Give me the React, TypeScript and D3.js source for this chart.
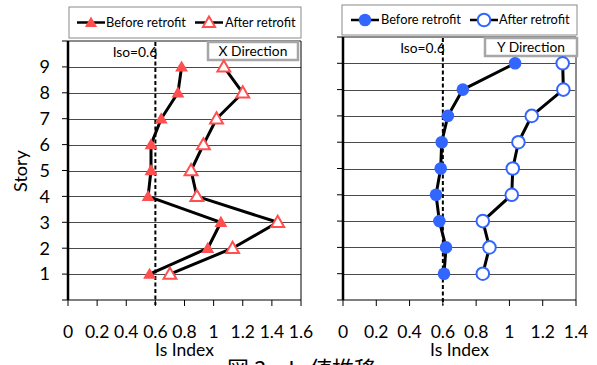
import React from "react";
import * as d3 from "d3";

const stories = [1, 2, 3, 4, 5, 6, 7, 8, 9];
const xBefore = [0.56, 0.96, 1.05, 0.55, 0.57, 0.57, 0.64, 0.755, 0.78];
const xAfter = [0.70, 1.13, 1.44, 0.885, 0.845, 0.93, 1.02, 1.2, 1.07];
const yBefore = [0.607, 0.619, 0.579, 0.559, 0.587, 0.593, 0.63, 0.72, 1.034];
const yAfter = [0.84, 0.88, 0.84, 1.014, 1.02, 1.054, 1.134, 1.324, 1.32];
const xTicksL = [0, 0.2, 0.4, 0.6, 0.8, 1, 1.2, 1.4, 1.6];
const xTicksR = [0, 0.2, 0.4, 0.6, 0.8, 1, 1.2, 1.4];
const storyTicks = [0, 1, 2, 3, 4, 5, 6, 7, 8, 9, 10];
const iso = 0.6;
const legendLabels = ["Before retrofit", "After retrofit"];

const RED = "#FF4F4F";
const BLUE = "#3366FF";
const FONT = "Lato, 'Open Sans', sans-serif";

const tri = d3.symbol(d3.symbolTriangle).size(72)() as string;
const triLeg = d3.symbol(d3.symbolTriangle).size(64)() as string;

type PanelProps = {
  x: d3.ScaleLinear<number, number>;
  y: d3.ScaleLinear<number, number>;
  ticks: number[];
  before: number[];
  after: number[];
  kind: "tri" | "circ";
  showYLabels: boolean;
  rightColor: string;
  dir: string;
  legend: { x0: number; y0: number; x1: number; y1: number; items: number[]; texts: number[] };
  dirBox: { x0: number; y0: number; x1: number; y1: number };
  isoLabelY: number;
};

function Marker({ kind, filled, cx, cy, legend }: { kind: string; filled: boolean; cx: number; cy: number; legend?: boolean }) {
  if (kind === "tri") {
    return (
      <path
        d={legend ? triLeg : tri}
        transform={`translate(${cx},${cy + 1})`}
        fill={filled ? RED : "#fff"}
        stroke={RED}
        strokeWidth={filled ? 0 : 2}
      />
    );
  }
  return <circle cx={cx} cy={cy} r={6.3} fill={filled ? BLUE : "#fff"} stroke={BLUE} strokeWidth={filled ? 0 : 2} />;
}

function Panel(p: PanelProps) {
  const { x, y } = p;
  const [xl, xr] = x.range();
  const [yb, yt] = y.range();
  const line = d3
    .line<number>()
    .x((d) => x(d))
    .y((_, i) => y(stories[i]));
  const cx = (xl + xr) / 2;
  return (
    <g>
      {/* legend */}
      <rect x={p.legend.x0} y={p.legend.y0} width={p.legend.x1 - p.legend.x0} height={p.legend.y1 - p.legend.y0} fill="#fff" stroke="#8a8a8a" strokeWidth={1} />
      {legendLabels.map((t, i) => {
        const lx = p.legend.items[i];
        const ly = (p.legend.y0 + p.legend.y1) / 2;
        return (
          <g key={t}>
            <line x1={lx - 14} x2={lx + 14} y1={ly} y2={ly} stroke="#000" strokeWidth={2.5} />
            <Marker kind={p.kind} filled={i === 0} cx={lx} cy={ly} legend />
            <text x={p.legend.texts[i]} y={ly} dy="0.35em" fontSize={12.8} fontFamily={FONT} fill="#000">
              {t}
            </text>
          </g>
        );
      })}
      {/* horizontal grid */}
      {storyTicks.slice(1, 10).map((s) => (
        <line key={s} x1={xl} x2={xr} y1={Math.round(y(s)) + 0.5} y2={Math.round(y(s)) + 0.5} stroke="#4a4a4a" strokeWidth={1} />
      ))}
      <line x1={xl} x2={xr} y1={yt} y2={yt} stroke="#8c8c8c" strokeWidth={2} />
      <line x1={xr} x2={xr} y1={yt} y2={yb} stroke={p.rightColor} strokeWidth={p.rightColor === "#000" ? 1 : 2} />
      {/* x axis */}
      <line x1={xl} x2={xr} y1={yb} y2={yb} stroke="#000" strokeWidth={1.2} />
      {p.ticks.map((t) => (
        <g key={t}>
          <line x1={x(t)} x2={x(t)} y1={yb} y2={yb + 6} stroke="#000" strokeWidth={1} />
          <text x={x(t)} y={yb + 32} textAnchor="middle" dy="0.35em" fontSize={17.5} fontFamily={FONT}>
            {String(t)}
          </text>
        </g>
      ))}
      <text x={cx} y={yb + 50} textAnchor="middle" dy="0.35em" fontSize={17.5} fontFamily={FONT}>
        Is Index
      </text>
      {/* y axis */}
      <line x1={xl} x2={xl} y1={yt} y2={yb} stroke="#000" strokeWidth={2.5} />
      {storyTicks.map((s) => (
        <g key={s}>
          <line x1={xl - 6} x2={xl} y1={y(s)} y2={y(s)} stroke="#000" strokeWidth={1} />
          {p.showYLabels && s >= 1 && s <= 9 ? (
            <text x={xl - 18} y={y(s)} textAnchor="end" dy="0.35em" fontSize={18} fontFamily={FONT}>
              {s}
            </text>
          ) : null}
        </g>
      ))}
      {/* iso line */}
      <line x1={x(iso)} x2={x(iso)} y1={yt + 1} y2={yb + 5} stroke="#000" strokeWidth={2} strokeDasharray="4 2.5" />
      <text x={x(iso) + 2} y={p.isoLabelY} textAnchor="end" dy="0.35em" fontSize={13.8} fontFamily={FONT}>
        Iso=0.6
      </text>
      {/* direction box */}
      <rect x={p.dirBox.x0} y={p.dirBox.y0} width={p.dirBox.x1 - p.dirBox.x0} height={p.dirBox.y1 - p.dirBox.y0} fill="#fff" stroke="#a6a6a6" strokeWidth={2.5} />
      <text x={(p.dirBox.x0 + p.dirBox.x1) / 2} y={(p.dirBox.y0 + p.dirBox.y1) / 2} textAnchor="middle" dy="0.35em" fontSize={13.8} fontFamily={FONT}>
        {p.dir}
      </text>
      {/* series */}
      <path d={line(p.before) as string} fill="none" stroke="#000" strokeWidth={3} strokeLinejoin="round" />
      <path d={line(p.after) as string} fill="none" stroke="#000" strokeWidth={3} strokeLinejoin="round" />
      {p.before.map((v, i) => (
        <Marker key={"b" + i} kind={p.kind} filled cx={x(v)} cy={y(stories[i])} />
      ))}
      {p.after.map((v, i) => (
        <Marker key={"a" + i} kind={p.kind} filled={false} cx={x(v)} cy={y(stories[i])} />
      ))}
    </g>
  );
}

export default function App() {
  const xL = d3.scaleLinear().domain([0, 1.6]).range([68, 301]);
  const yL = d3.scaleLinear().domain([0, 10]).range([300, 41]);
  const xR = d3.scaleLinear().domain([0, 1.4]).range([343, 576]);
  const yR = d3.scaleLinear().domain([0, 10]).range([300, 37]);
  return (
    <svg width={597} height={365} style={{ position: "absolute", left: 0, top: 0, background: "#fff" }}>
      <rect width={597} height={365} fill="#fff" />
      <Panel
        x={xL}
        y={yL}
        ticks={xTicksL}
        before={xBefore}
        after={xAfter}
        kind="tri"
        showYLabels
        rightColor="#000"
        dir="X Direction"
        legend={{ x0: 69, y0: 7, x1: 301, y1: 38, items: [91, 209], texts: [106, 225] }}
        dirBox={{ x0: 208, y0: 42, x1: 298, y1: 60 }}
        isoLabelY={52}
      />
      <Panel
        x={xR}
        y={yR}
        ticks={xTicksR}
        before={yBefore}
        after={yAfter}
        kind="circ"
        showYLabels={false}
        rightColor="#8c8c8c"
        dir="Y Direction"
        legend={{ x0: 342, y0: 5, x1: 577, y1: 35, items: [365, 484], texts: [381, 499] }}
        dirBox={{ x0: 485, y0: 38, x1: 577, y1: 56 }}
        isoLabelY={48}
      />
      <text
        x={21}
        y={171}
        transform="rotate(-90 21 171)"
        textAnchor="middle"
        dy="0.35em"
        fontSize={18}
        fontFamily={FONT}
      >
        Story
      </text>
      <text x={227} y={377} fontSize={22} fontFamily="'Noto Sans CJK JP', sans-serif">
        図 3 · Is 値推移
      </text>
    </svg>
  );
}
